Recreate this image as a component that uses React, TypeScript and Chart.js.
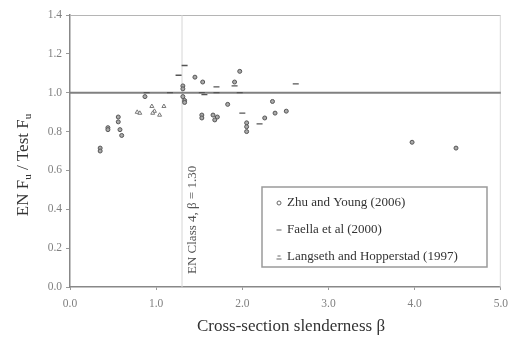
import React, { useEffect, useRef } from "react";
import { Chart, registerables } from "chart.js";

Chart.register(...registerables);

const SERIES_LABELS = ["Zhu and Young (2006)", "Faella et al (2000)", "Langseth and Hopperstad (1997)"];

const zhuX = [0.35, 0.35, 0.44, 0.44, 0.56, 0.56, 0.58, 0.6, 0.87, 1.31, 1.31, 1.31, 1.33, 1.33, 1.45, 1.54, 1.53, 1.53, 1.66, 1.71, 1.68, 1.83, 1.97, 1.91, 2.05, 2.05, 2.05, 2.26, 2.35, 2.38, 2.51, 3.97, 4.48];
const zhuY = [0.715, 0.70, 0.82, 0.81, 0.875, 0.85, 0.81, 0.78, 0.98, 1.035, 1.02, 0.98, 0.96, 0.95, 1.08, 1.055, 0.885, 0.87, 0.885, 0.875, 0.86, 0.94, 1.11, 1.055, 0.845, 0.825, 0.80, 0.87, 0.955, 0.895, 0.905, 0.745, 0.715];

const faellaX = [1.33, 1.26, 0.89, 1.16, 1.53, 1.56, 1.70, 1.70, 1.91, 1.97, 2.0, 2.2, 2.62];
const faellaY = [1.14, 1.09, 1.0, 1.0, 1.0, 0.99, 1.03, 1.0, 1.035, 1.0, 0.895, 0.84, 1.045];

const langX = [0.78, 0.81, 0.95, 0.98, 0.96, 1.04, 1.09];
const langY = [0.9, 0.895, 0.93, 0.905, 0.895, 0.885, 0.93];

const X_TICKS = [0, 1, 2, 3, 4, 5];
const Y_TICKS = [0, 0.2, 0.4, 0.6, 0.8, 1.0, 1.2, 1.4];
const REF_Y = 1.0;
const CLASS4_BETA = 1.3;
const CLASS4_LABEL = "EN Class 4, \u03b2 = 1.30";
const X_TITLE = "Cross-section slenderness \u03b2";

const FONT = "'Liberation Serif', 'Times New Roman', serif";

const zip = (xs: number[], ys: number[]) => xs.map((x, i) => ({ x, y: ys[i] }));

const overlayPlugin = {
  id: "overlay",
  beforeDatasetsDraw(chart: any) {
    const { ctx, chartArea: a, scales } = chart;
    const x = scales.x, y = scales.y;
    ctx.save();
    ctx.strokeStyle = "#b5b5b5";
    ctx.lineWidth = 1;
    ctx.beginPath();
    ctx.moveTo(a.left, a.top + 0.5);
    ctx.lineTo(a.right, a.top + 0.5);
    ctx.stroke();
    ctx.strokeStyle = "#d8d8d8";
    ctx.beginPath();
    ctx.moveTo(a.right - 0.5, a.top);
    ctx.lineTo(a.right - 0.5, a.bottom);
    ctx.stroke();
    const vx = x.getPixelForValue(CLASS4_BETA);
    ctx.strokeStyle = "#d6d6d6";
    ctx.lineWidth = 1;
    ctx.beginPath();
    ctx.moveTo(vx, a.top);
    ctx.lineTo(vx, a.bottom);
    ctx.stroke();
    const hy = y.getPixelForValue(REF_Y);
    ctx.strokeStyle = "#808080";
    ctx.lineWidth = 2;
    ctx.beginPath();
    ctx.moveTo(a.left, hy);
    ctx.lineTo(a.right, hy);
    ctx.stroke();
    ctx.fillStyle = "#555";
    ctx.font = `13px ${FONT}`;
    ctx.translate(vx + 11, y.getPixelForValue(0) - 13);
    ctx.rotate(-Math.PI / 2);
    ctx.textAlign = "left";
    ctx.textBaseline = "middle";
    ctx.fillText(CLASS4_LABEL, 0, 0);
    ctx.restore();
  },
  afterDraw(chart: any) {
    const { ctx } = chart;
    ctx.save();
    ctx.translate(24, 165);
    ctx.rotate(-Math.PI / 2);
    ctx.fillStyle = "#333";
    ctx.textBaseline = "middle";
    const big = `17px ${FONT}`;
    const small = `11px ${FONT}`;
    const parts: [string, string, number][] = [
      ["EN F", big, 0],
      ["u", small, 4],
      [" / Test F", big, 0],
      ["u", small, 4],
    ];
    let total = 0;
    for (const [t, f] of parts) {
      ctx.font = f;
      total += ctx.measureText(t).width;
    }
    let cx = -total / 2;
    ctx.textAlign = "left";
    for (const [t, f, dy] of parts) {
      ctx.font = f;
      ctx.fillText(t, cx, dy);
      cx += ctx.measureText(t).width;
    }
    ctx.restore();

    ctx.save();
    ctx.fillStyle = "#333";
    ctx.font = `17px ${FONT}`;
    ctx.textAlign = "center";
    ctx.textBaseline = "middle";
    ctx.fillText(X_TITLE, 291, 327);
    ctx.restore();

    ctx.save();
    const lx = 262, ly = 187, lw = 225, lh = 80;
    ctx.fillStyle = "#fff";
    ctx.fillRect(lx, ly, lw, lh);
    ctx.strokeStyle = "#9a9a9a";
    ctx.lineWidth = 1.5;
    ctx.strokeRect(lx, ly, lw, lh);
    ctx.font = `13px ${FONT}`;
    ctx.textAlign = "left";
    ctx.textBaseline = "middle";
    chart.data.datasets.forEach((ds: any, i: number) => {
      const yy = ly + 16 + i * 27;
      const mx = lx + 17;
      ctx.strokeStyle = "#666";
      ctx.fillStyle = "#fff";
      ctx.lineWidth = 1;
      if (ds.pointStyle === "circle") {
        ctx.beginPath();
        ctx.arc(mx, yy, 2, 0, Math.PI * 2);
        ctx.fill();
        ctx.stroke();
      } else if (ds.pointStyle === "line") {
        ctx.beginPath();
        ctx.moveTo(mx - 2.5, yy);
        ctx.lineTo(mx + 2.5, yy);
        ctx.stroke();
      } else {
        ctx.beginPath();
        ctx.moveTo(mx - 2.5, yy + 2);
        ctx.lineTo(mx + 2.5, yy + 2);
        ctx.moveTo(mx - 1.5, yy - 1);
        ctx.lineTo(mx + 1.5, yy - 1);
        ctx.stroke();
      }
      ctx.fillStyle = "#333";
      ctx.fillText(ds.label, lx + 25, yy);
    });
    ctx.restore();
  },
};

export default function App() {
  const ref = useRef<HTMLCanvasElement | null>(null);
  useEffect(() => {
    document.body.style.margin = "0";
    const canvas = ref.current!;
    const chart = new Chart(canvas, {
      type: "scatter",
      data: {
        datasets: [
          {
            label: SERIES_LABELS[0],
            data: zip(zhuX, zhuY),
            pointStyle: "circle",
            pointRadius: 2,
            borderColor: "#555",
            backgroundColor: "#aaa",
            borderWidth: 1,
          },
          {
            label: SERIES_LABELS[1],
            data: zip(faellaX, faellaY),
            pointStyle: "line",
            pointRadius: 3,
            borderColor: "#555",
            backgroundColor: "#555",
            borderWidth: 1.3,
          },
          {
            label: SERIES_LABELS[2],
            data: zip(langX, langY),
            pointStyle: "triangle",
            pointRadius: 2.3,
            borderColor: "#777",
            backgroundColor: "#fff",
            borderWidth: 1,
          },
        ],
      },
      options: {
        animation: false,
        responsive: false,
        maintainAspectRatio: false,
        layout: { padding: { top: 15, right: 13, left: 0, bottom: 0 } },
        plugins: { legend: { display: false }, tooltip: { enabled: false } },
        scales: {
          x: {
            type: "linear",
            min: 0,
            max: 5,
            afterFit: (s: any) => { s.height = 51; },
            afterBuildTicks: (s: any) => { s.ticks = X_TICKS.map((v) => ({ value: v })); },
            ticks: {
              callback: (v: any) => Number(v).toFixed(1),
              color: "#808080",
              font: { family: FONT, size: 11.5 },
              padding: 7,
              maxRotation: 0,
            },
            grid: { drawOnChartArea: false, drawTicks: true, tickLength: 3, color: "#999" },
            border: { display: true, color: "#888", width: 1.5 },
          },
          y: {
            type: "linear",
            min: 0,
            max: 1.4,
            afterFit: (s: any) => { s.width = 70; },
            afterBuildTicks: (s: any) => { s.ticks = Y_TICKS.map((v) => ({ value: v })); },
            ticks: {
              callback: (v: any) => Number(v).toFixed(1),
              color: "#808080",
              font: { family: FONT, size: 11.5 },
              padding: 4,
            },
            grid: { drawOnChartArea: false, drawTicks: true, tickLength: 4, color: "#999" },
            border: { display: true, color: "#888", width: 1.5 },
          },
        },
      },
      plugins: [overlayPlugin],
    } as any);
    return () => chart.destroy();
  }, []);
  return (
    <div style={{ width: 515, height: 338, background: "#fff" }}>
      <canvas ref={ref} width={515} height={338} style={{ width: 515, height: 338, display: "block" }} />
    </div>
  );
}
